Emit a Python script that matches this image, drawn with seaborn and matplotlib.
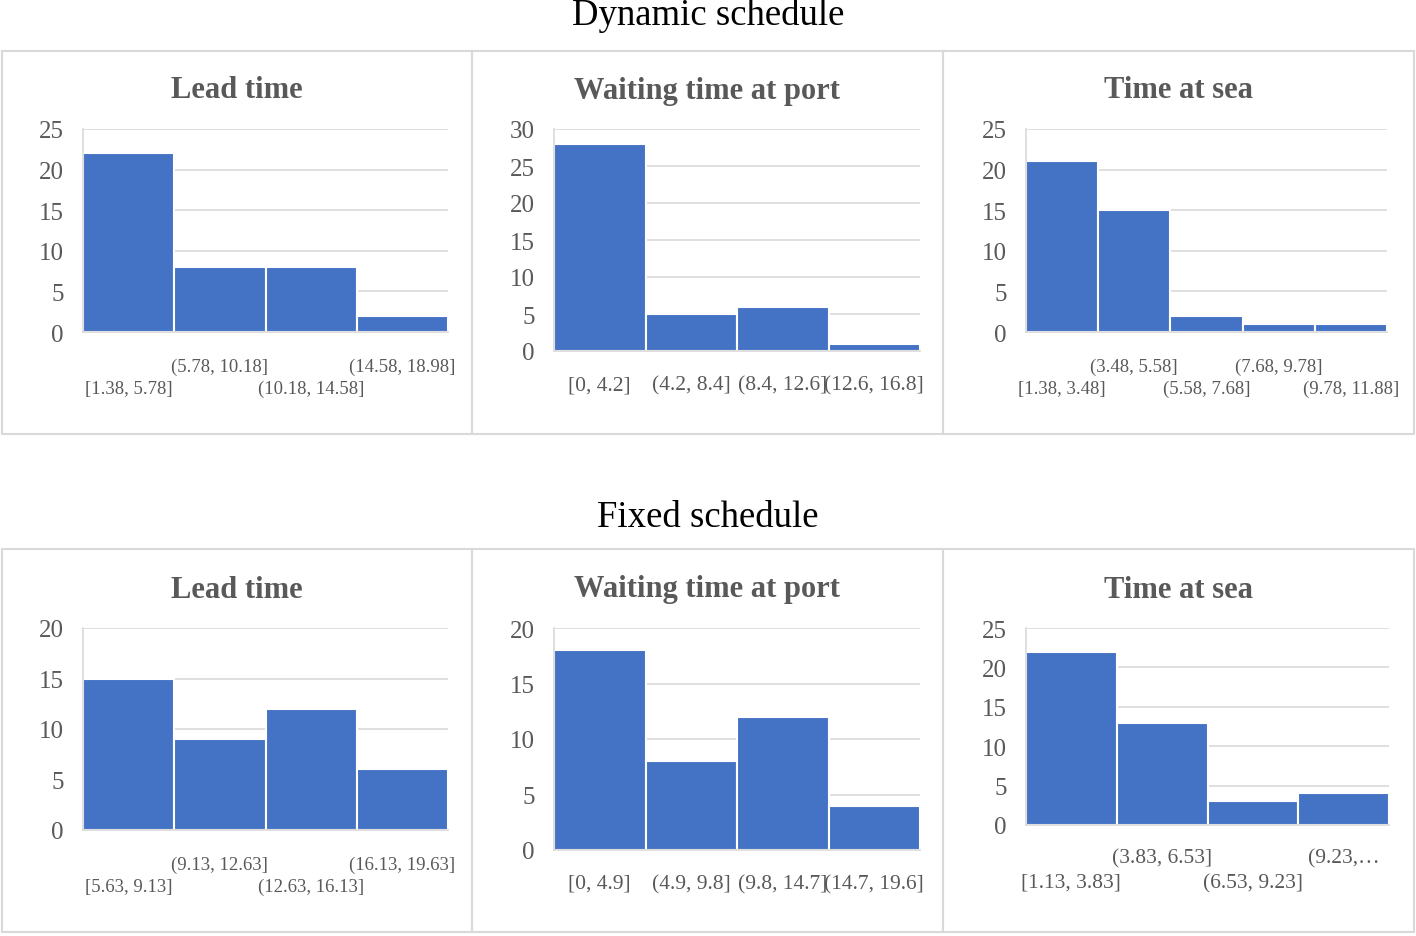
import matplotlib
matplotlib.use('Agg')
import matplotlib.pyplot as plt
import seaborn as sns
from matplotlib.patches import Rectangle

# Histogram bins and counts
dyn_lead_bins = ["[1.38, 5.78]", "(5.78, 10.18]", "(10.18, 14.58]", "(14.58, 18.98]"]
dyn_lead_counts = [22, 8, 8, 2]
dyn_wait_bins = ["[0, 4.2]", "(4.2, 8.4]", "(8.4, 12.6]", "(12.6, 16.8]"]
dyn_wait_counts = [28, 5, 6, 1]
dyn_sea_bins = ["[1.38, 3.48]", "(3.48, 5.58]", "(5.58, 7.68]", "(7.68, 9.78]", "(9.78, 11.88]"]
dyn_sea_counts = [21, 15, 2, 1, 1]

fix_lead_bins = ["[5.63, 9.13]", "(9.13, 12.63]", "(12.63, 16.13]", "(16.13, 19.63]"]
fix_lead_counts = [15, 9, 12, 6]
fix_wait_bins = ["[0, 4.9]", "(4.9, 9.8]", "(9.8, 14.7]", "(14.7, 19.6]"]
fix_wait_counts = [18, 8, 12, 4]
fix_sea_bins = ["[1.13, 3.83]", "(3.83, 6.53]", "(6.53, 9.23]", "(9.23,\u2026"]
fix_sea_counts = [22, 13, 3, 4]

panel_titles = ["Lead time", "Waiting time at port", "Time at sea"]
row_titles = ["Dynamic schedule", "Fixed schedule"]

sns.set_style('white')
plt.rcParams['font.family'] = ['Liberation Serif', 'DejaVu Serif']

W, H = 1416, 937
fig = plt.figure(figsize=(W / 100, H / 100), dpi=100)

BLUE = '#4472C4'
GREY = '#595959'
LINE = '#d9d9d9'


def px_axes(x0, y0, x1, y1):
    return fig.add_axes([x0 / W, 1 - y1 / H, (x1 - x0) / W, (y1 - y0) / H])


def draw_panel(rect, bins, counts, ymax, stagger, labsize, rows=(26, 48)):
    ax = px_axes(*rect)
    sns.barplot(x=bins, y=counts, order=bins, color=BLUE, saturation=1,
                width=1, edgecolor='white', linewidth=1.5, ax=ax)
    ax.set_xlim(-0.5, len(bins) - 0.5)
    ax.set_ylim(0, ymax)
    ax.set_yticks(range(0, ymax + 1, 5))
    ax.yaxis.grid(True, color=LINE, linewidth=1.2)
    ax.set_axisbelow(True)
    for s in ['top', 'right']:
        ax.spines[s].set_visible(False)
    for s in ['left', 'bottom']:
        ax.spines[s].set_color(LINE)
        ax.spines[s].set_linewidth(1.2)
    ax.set_xticks(range(len(bins)))
    ax.set_xticklabels([])
    ax.tick_params(axis='x', length=0)
    ax.tick_params(axis='y', length=0, pad=14, labelsize=18, labelcolor=GREY)
    # category labels, staggered over two rows like Excel does
    for i, b in enumerate(bins):
        dy = rows[1] if (stagger and i % 2 == 0) else rows[0]
        ax.annotate(b, xy=(i, 0), xycoords=('data', 'axes fraction'),
                    xytext=(0, -dy), textcoords='offset pixels',
                    ha='center', va='top', fontsize=labsize, color=GREY,
                    annotation_clip=False)
    ax.set_xlabel('')
    ax.set_ylabel('')
    return ax


# Row 1: dynamic schedule
draw_panel((83, 130, 448, 333), dyn_lead_bins, dyn_lead_counts, 25, True, 13.5)
draw_panel((554, 130, 920, 352), dyn_wait_bins, dyn_wait_counts, 30, False, 15.5, rows=(24, 46))
draw_panel((1026, 130, 1387, 333), dyn_sea_bins, dyn_sea_counts, 25, True, 13.5)

# Row 2: fixed schedule
draw_panel((83, 629, 448, 831), fix_lead_bins, fix_lead_counts, 20, True, 13.5)
draw_panel((554, 629, 920, 851), fix_wait_bins, fix_wait_counts, 20, False, 15.5, rows=(24, 46))
draw_panel((1026, 629, 1389, 826), fix_sea_bins, fix_sea_counts, 25, True, 15.5, rows=(23, 48))

# panel boxes and titles
col_edges = [2, 472, 943, 1414]
row_boxes = [(52, 435), (550, 933)]
title_y = [91, 590]
row_title_base = [25, 527]
for r, (y0, y1) in enumerate(row_boxes):
    fig.text(708 / W, 1 - row_title_base[r] / H, row_titles[r], ha='center', va='baseline',
             fontsize=26.5, color='black')
    for c in range(3):
        x0, x1 = col_edges[c], col_edges[c + 1]
        fig.patches.append(Rectangle((x0 / W, 1 - y1 / H), (x1 - x0) / W, (y1 - y0) / H,
                                     transform=fig.transFigure, fill=False,
                                     edgecolor=LINE, linewidth=1.5))
        fig.text((x0 + x1) / 2 / W, 1 - title_y[r] / H, panel_titles[c], ha='center',
                 va='center', fontsize=22, fontweight='bold', color=GREY)

fig.savefig('out.png', dpi=100)
